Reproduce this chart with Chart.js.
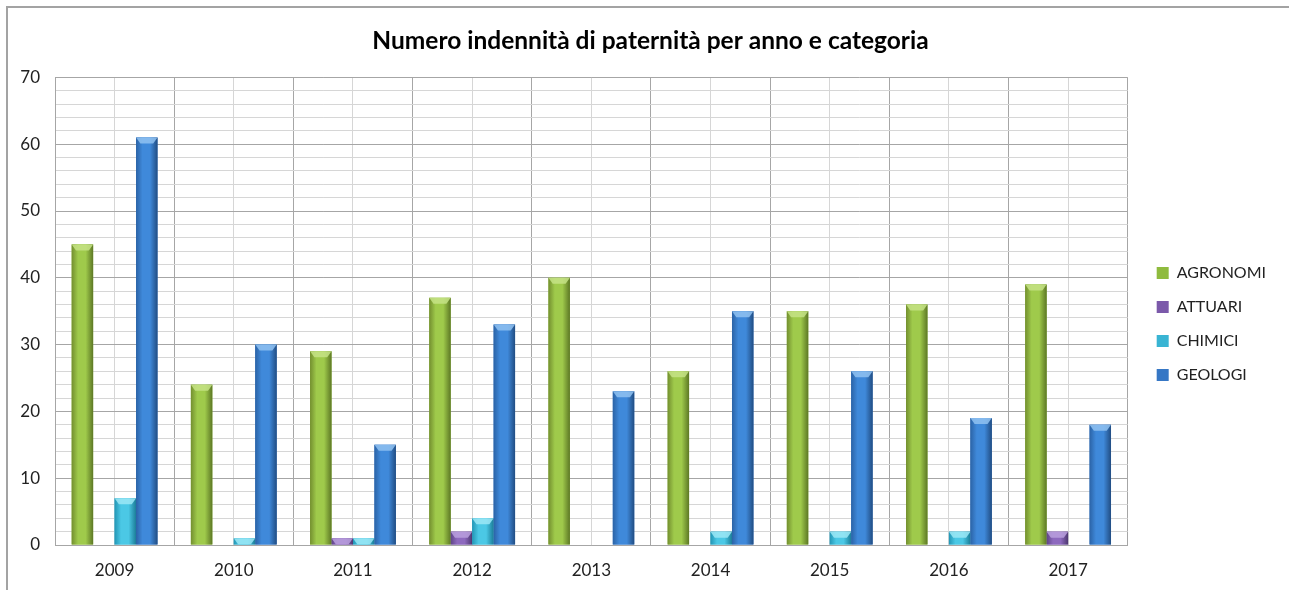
<!DOCTYPE html>
<html>
<head>
<meta charset="utf-8">
<script src="https://cdn.jsdelivr.net/npm/chart.js@4"></script>
<style>
  body { margin: 0; background: #fff; }
  #wrap { position: absolute; left: 0; top: 0; width: 1289px; height: 590px; }
  #frame {
    position: absolute; left: 6px; top: 6px; right: -4px; bottom: -4px;
    border-left: 2px solid #a3a3a3; border-top: 2px solid #a3a3a3;
    pointer-events: none;
  }
</style>
</head>
<body>
<div id="wrap">
  <canvas id="chart" width="1289" height="590"></canvas>
  <div id="frame"></div>
</div>
<script>
const years = ["2009", "2010", "2011", "2012", "2013", "2014", "2015", "2016", "2017"];
const agronomi = [45, 24, 29, 37, 40, 26, 35, 36, 39];
const attuari  = [0, 0, 1, 2, 0, 0, 0, 0, 2];
const chimici  = [7, 1, 1, 4, 0, 2, 2, 2, 0];
const geologi  = [61, 30, 15, 33, 23, 35, 26, 19, 18];

const palette = {
  AGRONOMI: { edge: "#738f2f", mid: "#9fca4b", dark: "#5d7825", top: "#c6e386", flat: "#8fbb3e" },
  ATTUARI:  { edge: "#5f4487", mid: "#8d69be", dark: "#4d3770", top: "#baa0de", flat: "#7b59aa" },
  CHIMICI:  { edge: "#2296b5", mid: "#4bc8e5", dark: "#1b7d98", top: "#9ce8f6", flat: "#39b4d3" },
  GEOLOGI:  { edge: "#2b63a6", mid: "#3f89da", dark: "#214d83", top: "#90c2f1", flat: "#3677c5" }
};

/* shading + bevel painted over the bars the library placed */
const shade = {
  id: "shade",
  afterDatasetsDraw(chart) {
    const c = chart.ctx;
    chart.data.datasets.forEach((ds, i) => {
      const p = palette[ds.label];
      chart.getDatasetMeta(i).data.forEach(bar => {
        const h = bar.base - bar.y;
        if (h < 1) return;
        const half = bar.width / 2;
        const left = bar.x - half;
        c.save();
        const g = c.createLinearGradient(left, 0, left + bar.width, 0);
        g.addColorStop(0, p.edge);
        g.addColorStop(0.3, p.mid);
        g.addColorStop(0.65, p.mid);
        g.addColorStop(1, p.dark);
        c.fillStyle = g;
        c.fillRect(left, bar.y, bar.width, h);

        const bh = Math.min(6, h);
        const inset = Math.min(5, half * 0.4);
        c.fillStyle = p.top;
        c.globalAlpha = 0.85;
        c.beginPath();
        c.moveTo(left, bar.y);
        c.lineTo(left + bar.width, bar.y);
        c.lineTo(left + bar.width - inset, bar.y + bh);
        c.lineTo(left + inset, bar.y + bh);
        c.closePath();
        c.fill();
        c.restore();
      });
    });
  }
};

/* nudge the legend and title blocks to where the original puts them */
const blockShift = {
  id: "blockShift",
  afterLayout(chart) {
    const lg = chart.legend;
    if (lg) {
      lg.left += 11; lg.right += 11;
      lg.top += 29; lg.bottom += 29;
    }
    const tb = chart.titleBlock;
    if (tb) { tb.left += 18; tb.right += 18; }
  }
};

const majorGrid = "#a6a6a6";
const minorGrid = "#d6d6d6";
const font = "Lato, 'Open Sans', sans-serif";

new Chart(document.getElementById("chart"), {
  type: "bar",
  data: {
    labels: years,
    datasets: [
      { label: "AGRONOMI", data: agronomi, backgroundColor: palette.AGRONOMI.flat },
      { label: "ATTUARI", data: attuari, backgroundColor: palette.ATTUARI.flat },
      { label: "CHIMICI", data: chimici, backgroundColor: palette.CHIMICI.flat },
      { label: "GEOLOGI", data: geologi, backgroundColor: palette.GEOLOGI.flat }
    ]
  },
  options: {
    responsive: false,
    animation: false,
    layout: { padding: { left: 0, right: 24, top: 0, bottom: 0 } },
    datasets: { bar: { categoryPercentage: 0.72, barPercentage: 1.0, borderWidth: 0 } },
    plugins: {
      title: {
        display: true,
        text: "Numero indennità di paternità per anno e categoria",
        color: "#000",
        font: { family: font, size: 24.5, weight: "bold" },
        padding: { top: 26, bottom: 22 }
      },
      legend: {
        position: "right",
        labels: {
          color: "#222",
          font: { family: font, size: 16 },
          boxWidth: 12,
          boxHeight: 12,
          padding: 18
        }
      },
      tooltip: { enabled: false }
    },
    scales: {
      x: {
        offset: true,
        grid: { offset: true, color: majorGrid, drawTicks: false },
        border: { color: majorGrid },
        ticks: { color: "#222", font: { family: font, size: 17 }, padding: 15 },
        afterFit: scale => { scale.height = 45; }
      },
      x2: {
        type: "category",
        position: "bottom",
        offset: true,
        grid: { offset: false, color: minorGrid, drawTicks: false },
        border: { display: false },
        ticks: { display: false },
        afterFit: scale => { scale.height = 0; }
      },
      y: {
        min: 0,
        max: 70,
        grid: {
          color: ctx => (ctx.tick && ctx.tick.value % 10 === 0 ? majorGrid : minorGrid),
          drawTicks: false
        },
        border: { color: majorGrid },
        ticks: {
          stepSize: 2,
          autoSkip: false,
          color: "#222",
          font: { family: font, size: 17 },
          padding: 15,
          callback: v => (v % 10 === 0 ? v : "")
        },
        afterFit: scale => { scale.width = 55; }
      }
    }
  },
  plugins: [shade, blockShift]
});
</script>
</body>
</html>
